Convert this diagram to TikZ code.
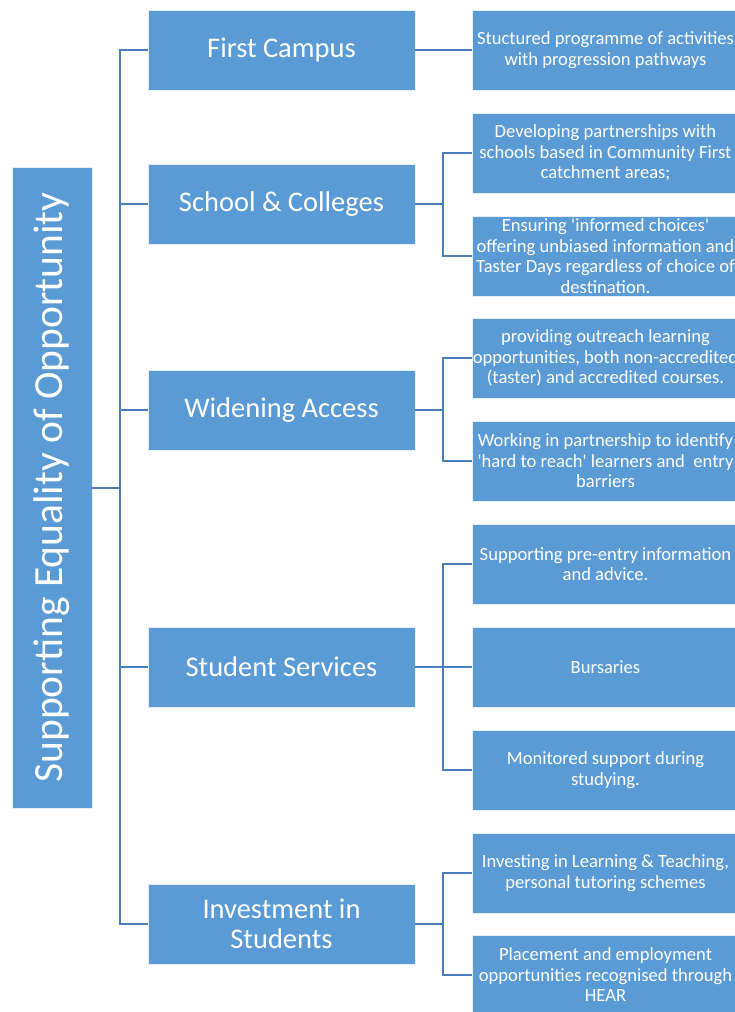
\documentclass[tikz,border=0pt]{standalone}
\usepackage{fontspec}
\setmainfont{Carlito}
\definecolor{boxblue}{HTML}{5B9BD5}
\definecolor{linkblue}{HTML}{4A7EBB}
\begin{document}
\begin{tikzpicture}[x=1pt,y=-1pt,
  box/.style={fill=boxblue,draw=white!85!boxblue,line width=0.6pt,text=white,align=center,inner sep=0pt},
  rootbox/.style={box,minimum width=80pt,minimum height=641pt},
  lvla/.style={box,minimum width=267pt,minimum height=80pt,font=\fontsize{28.5}{30}\selectfont},
  lvlb/.style={box,minimum width=267pt,minimum height=80pt,font=\fontsize{18.6}{20.5}\selectfont},
  link/.style={draw=linkblue,line width=2pt}]
\useasboundingbox (0,0) rectangle (735,1012);
\clip (0,0) rectangle (735,1012);
\node[rootbox] (root) at (52,487.5) {\rotatebox{90}{\fontsize{41.5}{45}\selectfont Supporting Equality of Opportunity}};
\node[lvla] (fc) at (281.5,50) {First Campus};
\node[lvla] (sc) at (281.5,204) {School \& Colleges};
\node[lvla] (wa) at (281.5,410) {Widening Access};
\node[lvla] (ss) at (281.5,667) {Student Services};
\node[lvla] (is) at (281.5,924) {Investment in\\Students};
\node[lvlb] (b1) at (605.5,50) {Stuctured programme of activities\\with progression pathways};
\node[lvlb] (b2) at (605.5,153) {Developing partnerships with\\schools based in Community First\\catchment areas;};
\node[lvlb] (b3) at (605.5,256) {Ensuring \textquotesingle informed choices\textquotesingle\\offering unbiased information and\\Taster Days regardless of choice of\\destination.};
\node[lvlb] (b4) at (605.5,358) {providing outreach learning\\opportunities, both non-accredited\\(taster) and accredited courses.};
\node[lvlb] (b5) at (605.5,461) {Working in partnership to identify\\\textquotesingle hard to reach\textquotesingle{} learners and\ \ entry\\barriers};
\node[lvlb] (b6) at (605.5,564) {Supporting pre-entry information\\and advice.};
\node[lvlb] (b7) at (605.5,667) {Bursaries};
\node[lvlb] (b8) at (605.5,770) {Monitored support during\\studying.};
\node[lvlb] (b9) at (605.5,873) {Investing in Learning \& Teaching,\\personal tutoring schemes};
\node[lvlb] (b10) at (605.5,975) {Placement and employment\\opportunities recognised through\\HEAR};
% trunk
\coordinate (tr) at ([xshift=28pt]root.east);
\draw[link] (root.east) -- (tr);
\draw[link] (fc.west) -| (tr) |- (is.west);
\foreach \n in {sc,wa,ss} \draw[link] (tr |- \n.west) -- (\n.west);
% branches
\draw[link] (fc.east) -- (b1.west);
\draw[link] (sc.east) -- ([xshift=28pt]sc.east) coordinate (c2);
\draw[link] (b2.west) -| (c2) |- (b3.west);
\draw[link] (wa.east) -- ([xshift=28pt]wa.east) coordinate (c3);
\draw[link] (b4.west) -| (c3) |- (b5.west);
\draw[link] (ss.east) -- ([xshift=28pt]ss.east) coordinate (c4);
\draw[link] (b6.west) -| (c4) |- (b8.west);
\draw[link] (c4) -- (b7.west);
\draw[link] (is.east) -- ([xshift=28pt]is.east) coordinate (c5);
\draw[link] (b9.west) -| (c5) |- (b10.west);
\end{tikzpicture}
\end{document}
